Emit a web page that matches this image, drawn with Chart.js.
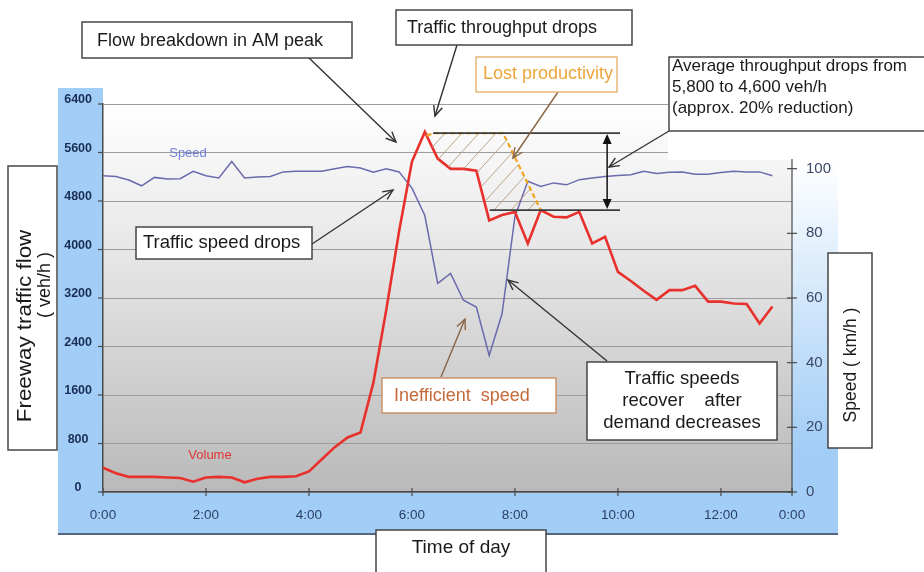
<!DOCTYPE html>
<html><head><meta charset="utf-8">
<script src="https://cdn.jsdelivr.net/npm/chart.js@4.4.1/dist/chart.umd.min.js"></script>
<style>html,body{margin:0;padding:0;background:#fff;}canvas{display:block;}</style>
</head><body>
<canvas id="c" width="924" height="572"></canvas>
<script>
// ---- data (15-minute intervals) ----
const times = ['0:00','0:15','0:30','0:45','1:00','1:15','1:30','1:45','2:00','2:15','2:30','2:45','3:00','3:15','3:30','3:45','4:00','4:15','4:30','4:45','5:00','5:15','5:30','5:45','6:00','6:15','6:30','6:45','7:00','7:15','7:30','7:45','8:00','8:15','8:30','8:45','9:00','9:15','9:30','9:45','10:00','10:15','10:30','10:45','11:00','11:15','11:30','11:45','12:00','12:15','12:30','12:45','13:00'];
const volume = [400,310,250,250,250,240,230,170,240,250,240,160,220,250,250,260,340,540,740,900,980,1800,3000,4300,5450,5940,5500,5330,5330,5300,4480,4570,4620,4100,4650,4540,4530,4620,4100,4210,3630,3480,3320,3170,3330,3330,3400,3140,3140,3110,3100,2780,3060];
const speed = [97.8,97.6,96.5,94.7,97.3,96.8,96.9,99.2,97.8,97.1,102.2,97.1,97.4,97.6,99.0,99.2,99.2,99.2,100.0,100.7,100.2,98.9,100.0,99.0,94.0,85.5,64.5,67.6,59.3,57.2,42.2,55.2,85.2,96.1,94.5,95.6,95.0,96.6,97.1,97.6,97.9,98.1,99.2,98.5,98.9,99.0,98.3,98.3,98.8,99.2,99.0,99.0,97.8];
const volumeTicks = [0,800,1600,2400,3200,4000,4800,5600,6400];
const speedTicks = [0,20,40,60,80,100];
const speedAxisMax = 120;
const xTickHours = [0,2,4,6,8,10,12,13.38];
const xTickLabels = ['0:00','2:00','4:00','6:00','8:00','10:00','12:00','0:00'];
const throughputHigh = 5920;   // "5,800" level line
const throughputLow = 4650;    // "4,600" level line
const lostStart = '6:15', lostEnd = '8:30', lostFlatEndHour = 7.77;

const toHour = t => { const [h,m] = t.split(':').map(Number); return h + m/60; };
const hours = times.map(toHour);
const FONT = "'Liberation Sans', Arial, sans-serif";

function txt(ctx, s, x, y, size, color, align, hs, weight) {
  ctx.save();
  ctx.font = (weight||'normal') + ' ' + size + 'px ' + FONT;
  ctx.fillStyle = color; ctx.textBaseline = 'middle'; ctx.textAlign = align || 'left';
  ctx.translate(x, y); ctx.scale(hs || 1, 1);
  ctx.fillText(s, 0, 0);
  ctx.restore();
}
function box(ctx, x, y, w, h, stroke) {
  ctx.save(); ctx.fillStyle = '#fff'; ctx.fillRect(x, y, w, h);
  ctx.strokeStyle = stroke || '#3a3a3a'; ctx.lineWidth = 1.4; ctx.strokeRect(x, y, w, h); ctx.restore();
}
function arrow(ctx, x1, y1, x2, y2, color, w) {
  ctx.save(); ctx.strokeStyle = color; ctx.lineWidth = w || 1.4;
  ctx.beginPath(); ctx.moveTo(x1, y1); ctx.lineTo(x2, y2); ctx.stroke();
  const a = Math.atan2(y2 - y1, x2 - x1), L = 11, s = 0.42;
  ctx.beginPath();
  ctx.moveTo(x2 - L*Math.cos(a - s), y2 - L*Math.sin(a - s));
  ctx.lineTo(x2, y2);
  ctx.lineTo(x2 - L*Math.cos(a + s), y2 - L*Math.sin(a + s));
  ctx.stroke(); ctx.restore();
}

const deco = {
  id: 'deco',
  beforeDraw(chart) {
    const ctx = chart.ctx, ca = chart.chartArea;
    ctx.save();
    ctx.fillStyle = '#fff'; ctx.fillRect(0, 0, chart.width, chart.height);
    const blue = '#a2cdf6';
    const g = ctx.createLinearGradient(0, 160, 0, 450);
    g.addColorStop(0, 'rgba(162,205,246,0)'); g.addColorStop(1, blue);
    ctx.fillStyle = g; ctx.fillRect(ca.right, 140, 838 - ca.right, ca.bottom - 140);
    ctx.fillStyle = blue;
    ctx.fillRect(58, 88, ca.left - 58, 446);
    ctx.fillRect(58, ca.bottom, 838 - 58, 534 - ca.bottom);
    ctx.fillStyle = '#56667e'; ctx.fillRect(58, 533, 838 - 58, 2);
    const pg = ctx.createLinearGradient(0, ca.top, 0, ca.bottom);
    pg.addColorStop(0, '#ffffff'); pg.addColorStop(0.45, '#e2e2e2'); pg.addColorStop(1, '#b9b9b9');
    ctx.fillStyle = pg; ctx.fillRect(ca.left, ca.top, ca.right - ca.left, ca.bottom - ca.top);
    ctx.restore();
  },
  beforeDatasetsDraw(chart) {
    const ctx = chart.ctx, ca = chart.chartArea;
    ctx.save(); ctx.fillStyle = '#fff'; ctx.fillRect(668, ca.top - 2, ca.right - 668 + 2, 58); ctx.restore();
  },
  afterDatasetsDraw(chart) {
    const ctx = chart.ctx, x = chart.scales.x, y = chart.scales.y, y2 = chart.scales.y2, ca = chart.chartArea;
    ctx.save();
    ctx.strokeStyle = '#4a4a4a'; ctx.lineWidth = 1.2;
    volumeTicks.forEach(v => { const py = y.getPixelForValue(v); ctx.beginPath(); ctx.moveTo(ca.left - 5, py); ctx.lineTo(ca.left, py); ctx.stroke(); });
    xTickHours.forEach(h => { const px = x.getPixelForValue(h); ctx.beginPath(); ctx.moveTo(px, ca.bottom - 4); ctx.lineTo(px, ca.bottom + 4); ctx.stroke(); });
    ctx.beginPath(); ctx.moveTo(ca.right, y2.getPixelForValue(103)); ctx.lineTo(ca.right, ca.bottom); ctx.stroke();
    speedTicks.forEach(v => { const py = y2.getPixelForValue(v); ctx.beginPath(); ctx.moveTo(ca.right - 5, py); ctx.lineTo(ca.right + 5, py); ctx.stroke(); });

    // lost productivity region
    const i0 = times.indexOf(lostStart), i1 = times.indexOf(lostEnd);
    const P = [x.getPixelForValue(hours[i0]), y.getPixelForValue(volume[i0])];
    const Q = [x.getPixelForValue(lostFlatEndHour), y.getPixelForValue(throughputHigh)];
    const R = [x.getPixelForValue(hours[i1]), y.getPixelForValue(volume[i1])];
    ctx.save();
    ctx.beginPath(); ctx.moveTo(P[0], y.getPixelForValue(throughputHigh)); ctx.lineTo(Q[0], Q[1]); ctx.lineTo(R[0], R[1]);
    for (let i = i1 - 1; i >= i0; i--) ctx.lineTo(x.getPixelForValue(hours[i]), y.getPixelForValue(Math.max(volume[i], throughputLow)));
    ctx.closePath(); ctx.clip();
    ctx.strokeStyle = '#b79a7c'; ctx.lineWidth = 0.9;
    for (let k = -10; k < 20; k++) {
      const bx = P[0] + k * 17;
      ctx.beginPath(); ctx.moveTo(bx, R[1] + 20); ctx.lineTo(bx + 100, R[1] + 20 - 110); ctx.stroke();
    }
    ctx.restore();
    ctx.strokeStyle = '#f2a523'; ctx.lineWidth = 2.2; ctx.setLineDash([5, 3]);
    ctx.beginPath(); ctx.moveTo(P[0] + 2, P[1] + 4); ctx.lineTo(P[0] + 8, y.getPixelForValue(throughputHigh)); ctx.lineTo(Q[0], Q[1]); ctx.lineTo(R[0], R[1]); ctx.stroke();
    ctx.setLineDash([]);

    ctx.strokeStyle = '#3c3c3c'; ctx.lineWidth = 1.6;
    const yh = y.getPixelForValue(throughputHigh), yl = y.getPixelForValue(throughputLow);
    ctx.beginPath(); ctx.moveTo(x.getPixelForValue(6.41), yh); ctx.lineTo(x.getPixelForValue(10.04), yh); ctx.stroke();
    ctx.beginPath(); ctx.moveTo(x.getPixelForValue(7.51), yl); ctx.lineTo(x.getPixelForValue(10.04), yl); ctx.stroke();
    const ax = x.getPixelForValue(9.79);
    ctx.strokeStyle = '#111'; ctx.lineWidth = 1.5;
    ctx.beginPath(); ctx.moveTo(ax, yh + 4); ctx.lineTo(ax, yl - 4); ctx.stroke();
    ctx.fillStyle = '#111';
    ctx.beginPath(); ctx.moveTo(ax, yh + 1); ctx.lineTo(ax - 4.5, yh + 11); ctx.lineTo(ax + 4.5, yh + 11); ctx.closePath(); ctx.fill();
    ctx.beginPath(); ctx.moveTo(ax, yl - 1); ctx.lineTo(ax - 4.5, yl - 11); ctx.lineTo(ax + 4.5, yl - 11); ctx.closePath(); ctx.fill();
    ctx.restore();
  },
  afterDraw(chart) {
    const ctx = chart.ctx;
    txt(ctx, 'Speed', 188, 153, 13, '#6f7fd6', 'center');
    txt(ctx, 'Volume', 210, 455, 13, '#e03535', 'center');
    arrow(ctx, 308, 57, 396, 142, '#333');
    arrow(ctx, 457, 45, 435, 116, '#333');
    arrow(ctx, 558, 92, 513, 158, '#8a6442');
    arrow(ctx, 669, 131, 609, 167, '#333');
    arrow(ctx, 312, 244, 393, 190, '#333');
    arrow(ctx, 441, 377, 465, 319, '#8a6442');
    arrow(ctx, 607, 361, 508, 280, '#333');
    box(ctx, 82, 22, 270, 36); txt(ctx, 'Flow breakdown in AM peak', 97, 41, 18, '#1a1a1a');
    box(ctx, 396, 10, 236, 35); txt(ctx, 'Traffic throughput drops', 407, 28, 18, '#1a1a1a');
    box(ctx, 476, 57, 141, 35, '#e3b070'); txt(ctx, 'Lost productivity', 483, 74, 18, '#eda53a');
    box(ctx, 669, 57, 265, 74);
    txt(ctx, 'Average throughput drops from', 672, 66, 17, '#1a1a1a');
    txt(ctx, '5,800 to 4,600 veh/h', 672, 87, 17, '#1a1a1a');
    txt(ctx, '(approx. 20% reduction)', 672, 108, 17, '#1a1a1a');
    box(ctx, 136, 227, 176, 32); txt(ctx, 'Traffic speed drops', 143, 243, 18.5, '#1a1a1a');
    box(ctx, 382, 378, 174, 35, '#c98d62'); txt(ctx, 'Inefficient  speed', 394, 396, 18, '#c4693a');
    box(ctx, 587, 362, 190, 78);
    txt(ctx, 'Traffic speeds', 682, 379, 18.5, '#1a1a1a', 'center');
    txt(ctx, 'recover    after', 682, 401, 18.5, '#1a1a1a', 'center');
    txt(ctx, 'demand decreases', 682, 423, 18.5, '#1a1a1a', 'center');
    box(ctx, 8, 166, 49, 284);
    ctx.save(); ctx.translate(25, 326); ctx.rotate(-Math.PI/2); txt(ctx, 'Freeway traffic flow', 0, 0, 20, '#1a1a1a', 'center', 1.12); ctx.restore();
    ctx.save(); ctx.translate(45, 285); ctx.rotate(-Math.PI/2); txt(ctx, '( veh/h )', 0, 0, 18, '#1a1a1a', 'center'); ctx.restore();
    box(ctx, 828, 253, 44, 195);
    ctx.save(); ctx.translate(851, 365); ctx.rotate(-Math.PI/2); txt(ctx, 'Speed ( km/h )', 0, 0, 17.5, '#1a1a1a', 'center'); ctx.restore();
    box(ctx, 376, 530, 170, 50); txt(ctx, 'Time of day', 461, 548, 19, '#1a1a1a', 'center');
  }
};

new Chart(document.getElementById('c'), {
  type: 'line',
  data: {
    datasets: [
      { label: 'Volume', data: hours.map((h, i) => ({x: h, y: volume[i]})), yAxisID: 'y',
        borderColor: '#e8302c', borderWidth: 2.6, pointRadius: 0, tension: 0 },
      { label: 'Speed', data: hours.map((h, i) => ({x: h, y: speed[i]})), yAxisID: 'y2',
        borderColor: '#6a6aae', borderWidth: 1.5, pointRadius: 0, tension: 0 }
    ]
  },
  options: {
    responsive: false, animation: false, devicePixelRatio: 1,
    layout: { padding: { left: 58, top: 104, right: 0, bottom: 0 } },
    plugins: { legend: { display: false }, tooltip: { enabled: false } },
    scales: {
      x: {
        type: 'linear', min: 0, max: xTickHours[xTickHours.length - 1],
        afterBuildTicks: s => { s.ticks = xTickHours.map(v => ({ value: v })); },
        afterFit: s => { s.height = 80; },
        grid: { display: false, drawTicks: false },
        border: { display: true, color: '#4a4a4a', width: 1.5 },
        ticks: { autoSkip: false, maxRotation: 0, padding: 15, color: '#2a3f68',
          font: { family: FONT, size: 13.5 },
          callback: (v, i) => xTickLabels[i] }
      },
      y: {
        position: 'left', min: 0, max: 6400,
        afterBuildTicks: s => { s.ticks = volumeTicks.map(v => ({ value: v })); },
        afterFit: s => { s.width = 45; },
        grid: { color: '#9c9c9c', lineWidth: 1, drawTicks: false },
        border: { display: true, color: '#4a4a4a', width: 1.5 },
        ticks: { padding: 11, crossAlign: 'center', labelOffset: -4, color: '#1a2e55',
          font: { family: FONT, size: 12.5, weight: 'bold' },
          callback: v => String(v) }
      },
      y2: {
        position: 'right', min: 0, max: speedAxisMax,
        afterBuildTicks: s => { s.ticks = speedTicks.map(v => ({ value: v })); },
        afterFit: s => { s.width = 132; },
        grid: { display: false, drawOnChartArea: false, drawTicks: false },
        border: { display: false },
        ticks: { padding: 14, color: '#3a4866', font: { family: FONT, size: 15 },
          callback: v => String(v) }
      }
    }
  },
  plugins: [deco]
});
</script>
</body></html>
